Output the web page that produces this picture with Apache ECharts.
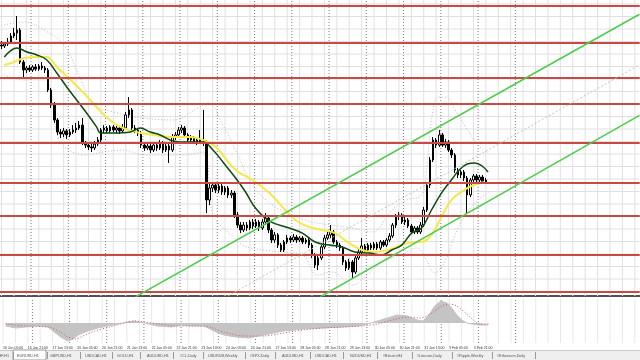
<!DOCTYPE html>
<html><head><meta charset="utf-8">
<script src="https://cdn.jsdelivr.net/npm/echarts@6/dist/echarts.min.js"></script>
<style>html,body{margin:0;padding:0;background:#fff}#c{width:640px;height:360px}</style>
</head><body><div id="c"></div>
<script>
// ---- data ----
const timeLabels = ['16 Jan 05:00','16 Jan 21:00','17 Jan 13:00','20 Jan 05:00','20 Jan 21:00','21 Jan 13:00','22 Jan 05:00','22 Jan 21:00','23 Jan 13:00','24 Jan 05:00','24 Jan 21:00','27 Jan 13:00','28 Jan 05:00','28 Jan 21:00','29 Jan 13:00','30 Jan 05:00','30 Jan 21:00','31 Jan 13:00','3 Feb 05:00','3 Feb 21:00'];
// [open, close, low, high] (2-hour bars from 16 Jan 05:00)
const candles = [
[1.11612,1.11605,1.11582,1.11642],[1.11605,1.11620,1.11590,1.11635],[1.11620,1.11635,1.11605,1.11665],[1.11635,1.11680,1.11620,1.11702],
[1.11680,1.11702,1.11665,1.11740],[1.11702,1.11725,1.11650,1.11830],[1.11725,1.11485,1.11470,1.11740],[1.11485,1.11425,1.11365,1.11500],
[1.11425,1.11440,1.11402,1.11455],[1.11440,1.11425,1.11410,1.11462],[1.11425,1.11448,1.11410,1.11462],[1.11448,1.11432,1.11418,1.11470],
[1.11432,1.11455,1.11418,1.11470],[1.11455,1.11440,1.11425,1.11485],[1.11440,1.11425,1.11402,1.11455],[1.11425,1.11275,1.11260,1.11440],
[1.11275,1.11162,1.11140,1.11290],[1.11162,1.11050,1.11028,1.11185],[1.11050,1.10960,1.10938,1.11065],[1.10960,1.10945,1.10915,1.10982],
[1.10945,1.10968,1.10922,1.10990],[1.10968,1.10938,1.10908,1.10982],[1.10938,1.10960,1.10922,1.10982],[1.10960,1.10975,1.10945,1.11012],
[1.10975,1.10990,1.10952,1.11028],[1.10990,1.11012,1.10975,1.11042],[1.11012,1.10878,1.10862,1.11065],[1.10878,1.10862,1.10840,1.10892],
[1.10862,1.10848,1.10825,1.10885],[1.10848,1.10840,1.10810,1.10870],[1.10840,1.10870,1.10825,1.10892],[1.10870,1.10900,1.10855,1.10922],
[1.10900,1.10975,1.10885,1.10990],[1.10975,1.10990,1.10952,1.11012],[1.10990,1.10968,1.10952,1.11005],[1.10968,1.10998,1.10952,1.11012],
[1.10998,1.10975,1.10960,1.11012],[1.10975,1.10990,1.10952,1.11005],[1.10990,1.10968,1.10945,1.11005],[1.10968,1.10990,1.10952,1.11020],
[1.10990,1.11088,1.10975,1.11110],[1.11088,1.11125,1.11065,1.11222],[1.11125,1.10990,1.10975,1.11140],[1.10990,1.10975,1.10952,1.11012],
[1.10975,1.10952,1.10930,1.10990],[1.10952,1.10862,1.10840,1.10968],[1.10862,1.10840,1.10818,1.10885],[1.10840,1.10855,1.10825,1.10878],
[1.10855,1.10825,1.10802,1.10870],[1.10825,1.10862,1.10810,1.10885],[1.10862,1.10840,1.10818,1.10878],[1.10840,1.10878,1.10825,1.10900],
[1.10878,1.10825,1.10802,1.10892],[1.10825,1.10855,1.10810,1.10878],[1.10855,1.10825,1.10728,1.10870],[1.10825,1.10922,1.10810,1.10945],
[1.10922,1.10938,1.10900,1.10960],[1.10938,1.10975,1.10922,1.10998],[1.10975,1.10990,1.10952,1.11012],[1.10990,1.10938,1.10922,1.11005],
[1.10938,1.10900,1.10885,1.10952],[1.10900,1.10915,1.10878,1.10938],[1.10915,1.10885,1.10870,1.10930],[1.10885,1.10900,1.10862,1.10922],
[1.10900,1.10885,1.10870,1.10975],[1.10885,1.10878,1.10855,1.11125],[1.10878,1.10450,1.10352,1.10900],[1.10450,1.10540,1.10412,1.10578],
[1.10540,1.10562,1.10510,1.10585],[1.10562,1.10525,1.10502,1.10578],[1.10525,1.10555,1.10502,1.10570],[1.10555,1.10510,1.10488,1.10570],
[1.10510,1.10540,1.10488,1.10555],[1.10540,1.10488,1.10465,1.10555],[1.10488,1.10502,1.10465,1.10525],[1.10502,1.10338,1.10315,1.10518],
[1.10338,1.10262,1.10240,1.10360],[1.10262,1.10225,1.10202,1.10285],[1.10225,1.10262,1.10210,1.10285],[1.10262,1.10240,1.10218,1.10285],
[1.10240,1.10285,1.10225,1.10300],[1.10285,1.10255,1.10232,1.10308],[1.10255,1.10285,1.10240,1.10308],[1.10285,1.10240,1.10218,1.10300],
[1.10240,1.10285,1.10225,1.10308],[1.10285,1.10315,1.10262,1.10352],[1.10315,1.10225,1.10202,1.10330],[1.10225,1.10150,1.10128,1.10240],
[1.10150,1.10188,1.10128,1.10210],[1.10188,1.10112,1.10090,1.10202],[1.10112,1.10075,1.10060,1.10128],[1.10075,1.10135,1.10060,1.10150],
[1.10135,1.10165,1.10120,1.10188],[1.10165,1.10150,1.10128,1.10180],[1.10150,1.10172,1.10135,1.10195],[1.10172,1.10150,1.10128,1.10188],
[1.10150,1.10165,1.10135,1.10180],[1.10165,1.10135,1.10120,1.10180],[1.10135,1.10150,1.10120,1.10165],[1.10150,1.10112,1.10090,1.10165],
[1.10112,1.10038,1.10015,1.10128],[1.10038,1.09962,1.09940,1.10052],[1.09962,1.10015,1.09925,1.10038],[1.10015,1.10098,1.10000,1.10112],
[1.10098,1.10165,1.10082,1.10188],[1.10165,1.10188,1.10150,1.10210],[1.10188,1.10210,1.10165,1.10262],[1.10210,1.10135,1.10120,1.10225],
[1.10135,1.10112,1.10090,1.10150],[1.10112,1.10090,1.10068,1.10128],[1.10090,1.09985,1.09962,1.10105],[1.09985,1.09940,1.09918,1.10000],
[1.09940,1.09985,1.09925,1.10008],[1.09985,1.09910,1.09858,1.10000],[1.09910,1.10015,1.09895,1.10038],[1.10015,1.10060,1.10000,1.10082],
[1.10060,1.10105,1.10045,1.10165],[1.10105,1.10075,1.10060,1.10120],[1.10075,1.10112,1.10060,1.10128],[1.10112,1.10090,1.10075,1.10128],
[1.10090,1.10120,1.10075,1.10135],[1.10120,1.10090,1.10075,1.10135],[1.10090,1.10135,1.10075,1.10150],[1.10135,1.10112,1.10098,1.10150],
[1.10112,1.10150,1.10098,1.10165],[1.10150,1.10180,1.10135,1.10202],[1.10180,1.10262,1.10165,1.10278],[1.10262,1.10330,1.10240,1.10345],
[1.10330,1.10338,1.10300,1.10360],[1.10338,1.10285,1.10270,1.10352],[1.10285,1.10300,1.10262,1.10322],[1.10300,1.10255,1.10240,1.10315],
[1.10255,1.10210,1.10195,1.10270],[1.10210,1.10240,1.10195,1.10255],[1.10240,1.10210,1.10195,1.10255],[1.10210,1.10262,1.10195,1.10285],
[1.10262,1.10375,1.10248,1.10398],[1.10375,1.10562,1.10360,1.10578],[1.10562,1.10750,1.10540,1.10772],[1.10750,1.10900,1.10735,1.10922],
[1.10900,1.10862,1.10840,1.10915],[1.10862,1.10938,1.10848,1.10975],[1.10938,1.10862,1.10848,1.10952],[1.10862,1.10885,1.10840,1.10908],
[1.10885,1.10825,1.10810,1.10900],[1.10825,1.10788,1.10765,1.10840],[1.10788,1.10675,1.10652,1.10802],[1.10675,1.10638,1.10615,1.10690],
[1.10638,1.10660,1.10615,1.10675],[1.10660,1.10615,1.10592,1.10675],[1.10615,1.10488,1.10352,1.10630],[1.10488,1.10600,1.10472,1.10615],
[1.10600,1.10630,1.10578,1.10645],[1.10630,1.10600,1.10585,1.10645],[1.10600,1.10622,1.10585,1.10638],[1.10622,1.10585,1.10570,1.10638],
[1.10585,1.10600,1.10570,1.10615]
];
// [bar index, price]
const maFast = [[0.9,1.11522],[5.0,1.11590],[8.2,1.11560],[11.4,1.11538],[14.6,1.11500],[17.8,1.11402],[21.0,1.11298],[24.2,1.11200],[27.4,1.11102],[30.6,1.10998],[31.9,1.10952],[36.1,1.10952],[41.5,1.10960],[44.7,1.10990],[47.9,1.10960],[51.1,1.10938],[54.3,1.10900],[57.5,1.10885],[60.7,1.10885],[64.9,1.10885],[68.1,1.10825],[71.3,1.10735],[75.4,1.10615],[78.6,1.10510],[81.8,1.10390],[86.3,1.10292],[92.7,1.10240],[96.9,1.10202],[101.0,1.10135],[105.5,1.10112],[109.7,1.10098],[113.8,1.10060],[118.3,1.10052],[122.5,1.10038],[125.7,1.10075],[128.9,1.10112],[132.1,1.10202],[135.3,1.10240],[138.5,1.10375],[141.7,1.10502],[144.9,1.10600],[147.4,1.10675],[150.0,1.10720],[152.5,1.10728],[154.8,1.10705],[156.7,1.10660]];
const maSlow = [[0.9,1.11462],[4.1,1.11485],[7.3,1.11515],[11.4,1.11522],[14.6,1.11522],[17.8,1.11448],[22.3,1.11350],[26.5,1.11252],[30.6,1.11148],[33.8,1.11072],[38.3,1.10998],[43.4,1.10960],[48.9,1.10938],[54.3,1.10922],[60.7,1.10922],[64.9,1.10900],[69.0,1.10848],[75.4,1.10675],[80.9,1.10600],[86.3,1.10502],[91.4,1.10375],[94.6,1.10300],[99.1,1.10248],[103.3,1.10225],[107.4,1.10202],[111.9,1.10128],[116.1,1.10075],[120.2,1.10060],[124.7,1.10075],[128.9,1.10112],[133.0,1.10135],[135.3,1.10135],[138.5,1.10188],[141.7,1.10322],[144.9,1.10450],[148.1,1.10510],[151.3,1.10555],[155.4,1.10585]];
const bandUpper = [[0.9,1.11762],[7.3,1.11785],[13.7,1.11725],[20.1,1.11612],[24.9,1.11388],[29.7,1.11162],[36.1,1.11110],[45.7,1.11065],[55.3,1.11050],[63.3,1.11140],[66.5,1.11178],[71.3,1.11012],[76.1,1.10788],[80.9,1.10562],[87.3,1.10412],[93.7,1.10338],[100.1,1.10285],[106.5,1.10262],[112.9,1.10240],[119.3,1.10210],[125.7,1.10375],[130.5,1.10450],[135.3,1.10488],[136.9,1.10675],[138.5,1.11050],[140.7,1.11222],[143.3,1.11222],[146.5,1.11110],[149.7,1.10990],[153.5,1.10862],[156.7,1.10802]];
const bandLower = [[0.9,1.11388],[7.3,1.11350],[13.7,1.11350],[18.5,1.10900],[21.7,1.10825],[26.5,1.10788],[32.9,1.10810],[39.3,1.10825],[45.7,1.10788],[52.1,1.10788],[58.5,1.10788],[64.9,1.10810],[68.1,1.10338],[72.9,1.10210],[77.7,1.10112],[84.1,1.10075],[90.5,1.10060],[96.9,1.10038],[101.7,1.09888],[106.5,1.09910],[112.9,1.09812],[117.7,1.09888],[122.5,1.09985],[128.9,1.10038],[133.7,1.10090],[136.9,1.10000],[139.4,1.09902],[142.6,1.09978],[145.8,1.10172],[149.0,1.10322],[153.5,1.10450],[156.7,1.10502]];
const levels = [1.11905,1.11628,1.11365,1.11170,1.10878,1.10578,1.10330,1.10038,1.09760];
const channelUpper = [[43.1,1.09723],[205.5,1.11843]];
const channelLower = [[102.6,1.09723],[205.5,1.11084]];
const channelMid = [[72.9,1.09730],[205.5,1.11463]];
const daySeparators = [9.5,21.5,33.5,45.5,57.5,69.5,81.5,93.5,105.5,117.5,129.5,141.5,153.5,165.5];
const macdHist = [[0.9,-0.00006],[4.1,-0.0001],[7.3,-0.00008],[10.5,-0.00006],[14.6,-0.00008],[16.9,-0.0002],[19.1,-0.0003],[21.0,-0.00036],[22.6,-0.00032],[24.2,-0.00024],[27.4,-0.00016],[30.6,-0.0001],[33.8,-0.00006],[37.0,-0.00002],[40.2,0.00002],[42.5,0.00004],[45.7,0],[49.8,-0.00006],[54.3,-0.00008],[57.5,-0.00004],[60.7,-0.00006],[64.9,-0.00006],[68.1,-0.00016],[71.3,-0.00024],[75.1,-0.00028],[79.3,-0.0003],[82.5,-0.00026],[85.7,-0.00022],[90.5,-0.00016],[96.9,-0.00012],[103.3,-0.0001],[109.7,-0.00008],[114.5,-0.00006],[117.7,-0.00002],[120.9,0.00004],[124.1,0.0001],[127.3,0.00016],[130.5,0.00014],[133.7,0.00006],[135.6,0.00004],[137.5,0.00016],[139.4,0.00034],[141.3,0.00044],[143.3,0.0004],[144.9,0.0003],[146.5,0.00016],[148.1,0.00006],[149.7,0],[151.3,-0.00002],[153.8,-0.00004],[156.7,-0.00004]];
const macdSignal = [[0.9,-0.00002],[7.3,-0.00006],[14.6,-0.00008],[18.5,-0.00018],[21.0,-0.00028],[23.3,-0.00032],[26.5,-0.00024],[29.7,-0.00016],[34.5,-0.00008],[39.3,0],[42.5,0.00004],[45.7,0.00002],[50.5,-0.00002],[55.3,-0.00006],[61.7,-0.00006],[66.5,-0.00008],[71.3,-0.00018],[77.7,-0.00026],[84.1,-0.00026],[90.5,-0.0002],[96.9,-0.00014],[103.3,-0.0001],[109.7,-0.00008],[116.1,-0.00006],[120.9,-0.00002],[125.7,0.00006],[130.5,0.00012],[134.6,0.0001],[138.5,0.0002],[141.7,0.00034],[144.2,0.00038],[146.5,0.00034],[149.7,0.00018],[151.9,0.00006],[153.8,-0.00002],[156.7,-0.00002]];
const tabNames = ['USDCHF,H1','EURUSD,H1','GBPUSD,H1','USDCAD,H1','GOLD,H1','AUDUSD,H1','#CL,Daily','USDRUB,Weekly','#SPX,Daily','AUDUSD,H1','USDCAD,H1','NZDUSD,H1','#Bitcoin,H4','#Litecoin,Daily','#Ripple,Weekly','#Ethereum,Daily'];

// ---- chart ----
const N = 206;
const cats = Array.from({length: N}, (_, i) => i);
const L = -4.2625, W = 643.75;
const YMIN = 1.0973, YMAX = 1.1195, MMIN = -0.0004, MMAX = 0.0005;
const vGrid = []; for (let v = 0; v <= 204; v += 4) vGrid.push(v);
const hGrid = []; for (let k = 0; k <= 23; k++) hGrid.push(1.1192 - 0.0009375 * k);
const LEVEL_COLOR = '#c94a45';

const seg = (a, b, color, width, type, z, pane) => ({type: 'line', xAxisIndex: pane ? 3 : 1, yAxisIndex: pane ? 1 : 0,
  data: [a, b], showSymbol: false, silent: true, z, lineStyle: {color, width, type}});
const lineS = (data, color, width, type, z, smooth) => ({type: 'line', xAxisIndex: 1, yAxisIndex: 0, data, showSymbol: false,
  smooth: smooth ? 0.4 : false, lineStyle: {color, width, type}, z, silent: true});

const series = [];
vGrid.forEach(v => { series.push(seg([v, YMIN], [v, YMAX], '#e0e0e0', 1, 'solid', 1, false)); series.push(seg([v, MMIN], [v, MMAX], '#e8e8e8', 1, 'solid', 1, true)); });
hGrid.forEach(p => series.push(seg([-0.5, p], [205.5, p], '#e0e0e0', 1, 'solid', 1, false)));
daySeparators.forEach(v => { series.push(seg([v, YMIN], [v, YMAX], '#7c7c7c', 1, [1, 2], 2, false)); series.push(seg([v, MMIN], [v, MMAX], '#7c7c7c', 1, [1, 2], 2, true)); });
series.push(lineS(bandUpper, '#bcbcbc', 1, [1, 2], 3, true));
series.push(lineS(bandLower, '#bcbcbc', 1, [1, 2], 3, true));
series.push({type: 'candlestick', xAxisIndex: 0, yAxisIndex: 0, data: candles, barWidth: 2, z: 4, silent: true,
  itemStyle: {color: '#ffffff', color0: '#000000', borderColor: '#000000', borderColor0: '#000000', borderWidth: 1},
  markLine: {silent: true, symbol: 'none', animation: false, precision: 5, label: {show: false}, z: 7,
    lineStyle: {color: LEVEL_COLOR, width: 2, type: 'solid'}, data: levels.map(p => ({yAxis: p}))}});
series.push(lineS(maSlow, '#f4e84a', 2, 'solid', 5, true));
series.push(lineS(maFast, '#0e4a12', 1.5, 'solid', 6, true));
levels.forEach(p => series.push(seg([-0.5, p], [205.5, p], LEVEL_COLOR, 2, 'solid', 7, false)));
series.push(lineS(channelMid, '#b5cdb5', 1, [2, 2], 8, false));
series.push(lineS(channelUpper, '#4ccc4c', 1.5, 'solid', 8, false));
series.push(lineS(channelLower, '#4ccc4c', 1.5, 'solid', 8, false));
series.push({type: 'line', xAxisIndex: 3, yAxisIndex: 1, data: macdHist, showSymbol: false, z: 3, silent: true,
  lineStyle: {color: '#c4c4c4', width: 1}, areaStyle: {color: '#c4c4c4', opacity: 1}});
series.push({type: 'line', xAxisIndex: 3, yAxisIndex: 1, data: macdSignal, showSymbol: false, smooth: 0.3, z: 4, silent: true,
  lineStyle: {color: '#d05a5a', width: 1, type: [1, 2]}});

const tabX = [9, 17, 50, 85, 117, 147, 180, 208, 250, 282, 315, 350, 383, 417, 457, 497];
const sepX = [13, 47, 80, 112, 140, 173, 203, 245, 275, 310, 343, 377, 412, 452, 492, 535];
const graphic = [
  {type: 'rect', shape: {x: 0, y: 350, width: 640, height: 10}, style: {fill: '#efefef'}, z: 100},
  {type: 'line', shape: {x1: 0, y1: 350.5, x2: 640, y2: 350.5}, style: {stroke: '#c8c8c8', lineWidth: 1}, z: 101},
  {type: 'rect', shape: {x: 13, y: 350, width: 33, height: 10}, style: {fill: '#ffffff', stroke: '#9a9a9a', lineWidth: 1}, z: 101}
];
tabNames.forEach((t, i) => graphic.push({type: 'text', x: tabX[i], y: 355.5, z: 102,
  style: {text: t, fontSize: 3.8, fontFamily: 'Liberation Sans', fill: '#555', verticalAlign: 'middle', align: i === 0 ? 'right' : 'left'}}));
sepX.forEach(x => graphic.push({type: 'line', shape: {x1: x + 0.5, y1: 352, x2: x + 0.5, y2: 359}, style: {stroke: '#9a9a9a', lineWidth: 1}, z: 102}));

const chart = echarts.init(document.getElementById('c'));
chart.setOption({
  animation: false,
  backgroundColor: '#ffffff',
  grid: [{left: L, top: 0, width: W, height: 296}, {left: L, top: 298, width: W, height: 45}],
  xAxis: [
    {type: 'category', gridIndex: 0, data: cats, axisLine: {show: true, lineStyle: {color: '#505050', width: 2}}, axisTick: {show: false}, axisLabel: {show: false}, splitLine: {show: false}},
    {type: 'value', gridIndex: 0, min: -0.5, max: 205.5, show: false},
    {type: 'category', gridIndex: 1, data: cats, axisLine: {show: false}, axisTick: {show: false}, splitLine: {show: false},
      axisLabel: {show: true, interval: i => i % 8 === 0 && i / 8 < timeLabels.length, formatter: (v, i) => timeLabels[i / 8] || '',
        fontSize: 3.5, fontFamily: 'Liberation Sans', color: '#333', align: 'left', margin: 3}},
    {type: 'value', gridIndex: 1, min: -0.5, max: 205.5, show: false}
  ],
  yAxis: [
    {type: 'value', gridIndex: 0, min: YMIN, max: YMAX, show: false},
    {type: 'value', gridIndex: 1, min: MMIN, max: MMAX, show: false}
  ],
  graphic,
  series
});
</script></body></html>
